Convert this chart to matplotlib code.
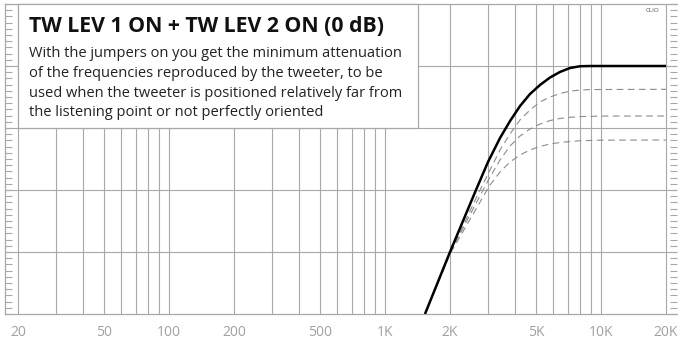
import numpy as np
import matplotlib
matplotlib.use("Agg")
import matplotlib.pyplot as plt
from matplotlib.patches import Rectangle
from matplotlib.ticker import FixedLocator, NullFormatter, MultipleLocator

plt.rcParams['font.family'] = ['Open Sans', 'DejaVu Sans']

# ---- response curves (Hz, dB) ----
# both jumpers on (0 dB)
freq_on = [1532, 2000, 2638, 2999, 3408, 3792, 4218, 4692, 5220, 5808, 6460, 7188, 7996, 8896, 20000]
db_on = [-20.0, -15.0, -10.0, -7.74, -5.81, -4.44, -3.23, -2.26, -1.53, -0.93, -0.48, -0.16, -0.02, 0.0, 0.0]

# attenuated settings
freq_m2 = [1532, 2000, 2754, 3064, 3408, 3792, 4218, 4692, 5220, 5808, 6460, 7188, 7996, 8896, 20000]
db_m2 = [-20.0, -15.08, -10.0, -8.39, -6.77, -5.48, -4.35, -3.55, -2.90, -2.50, -2.22, -2.03, -1.94, -1.90, -1.88]

freq_m4 = [1532, 2000, 2844, 3064, 3408, 3792, 4218, 4692, 5220, 5808, 6460, 7188, 7996, 9898, 20000]
db_m4 = [-20.0, -15.08, -10.0, -8.95, -7.58, -6.45, -5.65, -5.08, -4.68, -4.40, -4.23, -4.14, -4.08, -4.04, -4.03]

freq_m6 = [1532, 2000, 2968, 3064, 3408, 3792, 4218, 4692, 5220, 5808, 6460, 7188, 7996, 9898, 20000]
db_m6 = [-20.0, -15.16, -10.0, -9.60, -8.55, -7.74, -7.18, -6.77, -6.49, -6.29, -6.17, -6.09, -6.03, -5.98, -5.97]

# ---- axis labels ----
xtick_vals = [20, 50, 100, 200, 500, 1000, 2000, 5000, 10000, 20000]
xtick_text = ['20', '50', '100', '200', '500', '1K', '2K', '5K', '10K', '20K']

title = 'TW LEV 1 ON + TW LEV 2 ON (0 dB)'
body_lines = ['With the jumpers on you get the minimum attenuation',
              'of the frequencies reproduced by the tweeter, to be',
              'used when the tweeter is positioned relatively far from',
              'the listening point or not perfectly oriented']

grid_col = '#a8a8a8'
W, H = 678, 339

fig = plt.figure(figsize=(W / 100, H / 100), dpi=100)
ax = fig.add_axes([5 / W, (H - 314) / H, 672 / W, 310 / H])
ax.set_xscale('log')
ax.set_xlim(17.41, 22490)
ax.set_ylim(-20, 5)

# log grid: every 1..9 of each decade from 20 Hz to 20 kHz
grid_x = [m * 10 ** d for d in range(1, 5) for m in range(1, 10)]
grid_x = [g for g in grid_x if 20 <= g <= 20000]
for g in grid_x:
    ax.axvline(g, color=grid_col, lw=0.8, zorder=0)
for yv in range(-15, 5, 5):
    ax.axhline(yv, color=grid_col, lw=0.8, zorder=0)

ax.xaxis.set_major_locator(FixedLocator(xtick_vals))
ax.set_xticklabels(xtick_text)
ax.xaxis.set_minor_formatter(NullFormatter())
ax.tick_params(axis='x', which='both', length=0, pad=8, labelsize=10, labelcolor='#a0a0a0')

ax.yaxis.set_major_locator(MultipleLocator(5))
ax.yaxis.set_minor_locator(MultipleLocator(0.5))
ax.tick_params(axis='y', which='both', direction='in', left=True, right=True,
               labelleft=False, color=grid_col, width=0.8, length=5)

for side in ['left', 'bottom', 'top']:
    ax.spines[side].set_color(grid_col)
    ax.spines[side].set_linewidth(0.9)
ax.spines['right'].set_visible(False)

# attenuated settings (dashed) under the 0 dB curve
for fx, dy in [(freq_m2, db_m2), (freq_m4, db_m4), (freq_m6, db_m6)]:
    ax.plot(fx, dy, color='#8c8c8c', lw=0.8, ls=(0, (6, 4)), zorder=2)
ax.plot(freq_on, db_on, color='black', lw=1.8, zorder=3, solid_capstyle='butt')

# caption box
box = Rectangle((20, -5), 1422 - 20, 10, facecolor='white', edgecolor=grid_col,
                lw=0.9, zorder=4, clip_on=False)
ax.add_patch(box)
fig.text(29 / W, 1 - 31.7 / H, title, fontsize=15.3, fontweight='bold',
         color='#111111', ha='left', va='baseline', zorder=5)
for i, line in enumerate(body_lines):
    fig.text(29 / W, 1 - (57.3 + 19.7 * i) / H, line, fontsize=10.5, color='#222222',
             ha='left', va='baseline', zorder=5)

fig.text(653 / W, 1 - 10 / H, 'CLIO', fontsize=4.5, color='#555555',
         ha='center', va='center')

fig.savefig('out.png', dpi=100)
